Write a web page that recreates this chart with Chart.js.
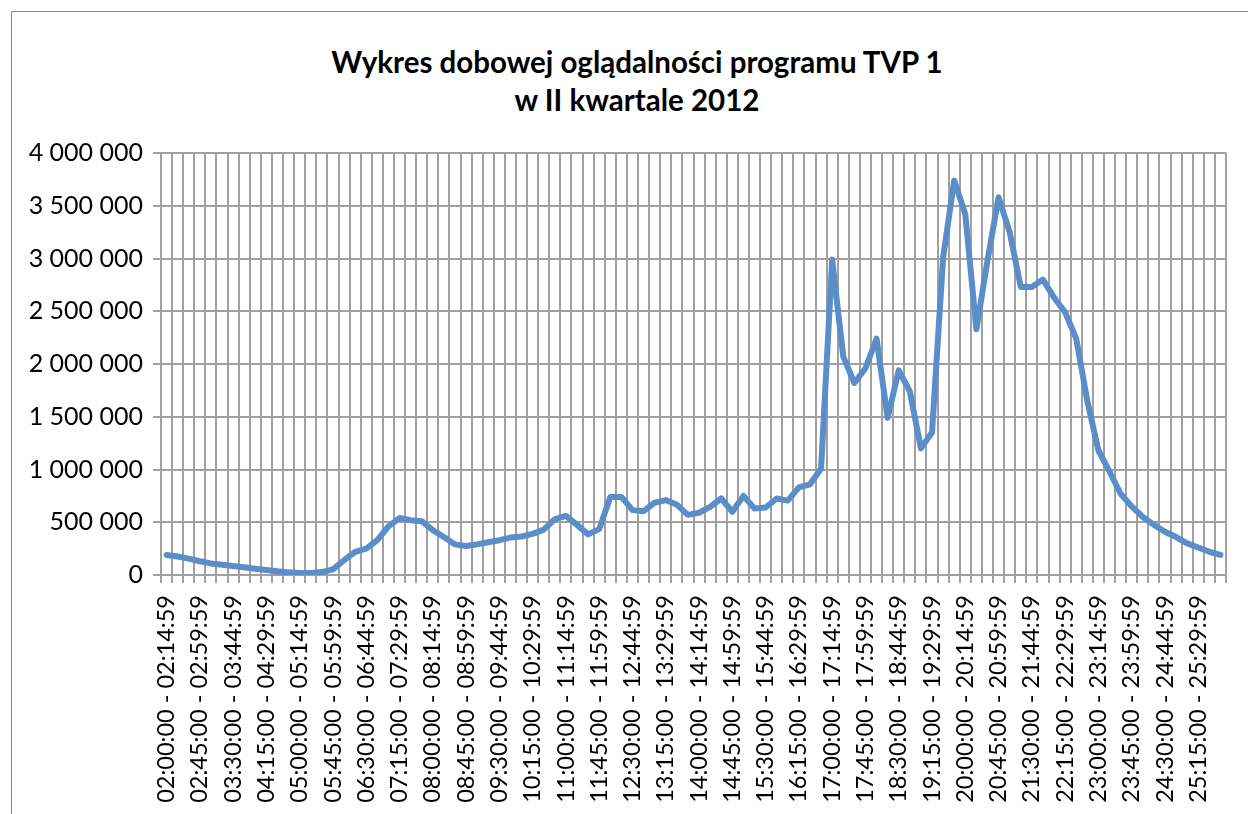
<!DOCTYPE html>
<html>
<head>
<meta charset="utf-8">
<script src="https://cdn.jsdelivr.net/npm/chart.js@4.4.1/dist/chart.umd.min.js"></script>
<style>
  html, body { margin: 0; padding: 0; background: #fff; overflow: hidden; }
  body { width: 1248px; height: 814px; position: relative; }
  .frame {
    position: absolute; left: 11px; top: 11px; width: 1250px; height: 810px;
    border-top: 1px solid #8c8c8c; border-left: 1px solid #8c8c8c;
  }
  .chart-box { position: absolute; left: 0; top: 0; width: 1250px; height: 802px; }
  .chart-title {
    position: absolute; left: 0; top: 31px; width: 1250px;
    text-align: center; font-family: Lato, "Open Sans", sans-serif;
    font-weight: bold; font-size: 29.5px; line-height: 38px; color: #000;
  }
</style>
</head>
<body>
<div class="frame">
  <div class="chart-title" id="chart-title"></div>
  <div class="chart-box"><canvas id="myChart"></canvas></div>
</div>
<script>
const titleLines = ['Wykres dobowej oglądalności programu TVP 1', 'w II kwartale 2012'];

// 15-minute slots from 02:00 to 25:59
const startHour = 2;
const slotCount = 96;
const showEvery = 3; // only every 3rd label is printed

// viewers per slot
const viewers = [
  190000, 175000, 155000, 130000, 110000, 98000, 85000, 73000, 60000, 48000,
  35000, 25000, 18000, 18000, 28000, 54000, 140000, 220000, 250000, 330000,
  460000, 540000, 520000, 510000, 425000, 360000, 290000, 275000, 290000, 310000,
  330000, 355000, 365000, 390000, 430000, 530000, 560000, 475000, 385000, 435000,
  740000, 740000, 615000, 605000, 685000, 710000, 665000, 570000, 590000, 645000,
  725000, 600000, 750000, 630000, 640000, 725000, 705000, 830000, 860000, 1010000,
  2990000, 2070000, 1820000, 1960000, 2240000, 1490000, 1940000, 1740000, 1200000, 1350000,
  3010000, 3740000, 3420000, 2330000, 2980000, 3580000, 3250000, 2730000, 2730000, 2800000,
  2630000, 2490000, 2240000, 1650000, 1180000, 980000, 770000, 650000, 550000, 475000,
  410000, 360000, 300000, 260000, 220000, 190000
];

const yMin = 0;
const yMax = 4000000;
const yStep = 500000;

function pad(n) {
  return n.toString().padStart(2, '0');
}

// build "HH:MM:00 - HH:MM:59" slot names
const slotLabels = [];
for (let i = 0; i < slotCount; i++) {
  const m = startHour * 60 + i * 15;
  const h = Math.floor(m / 60);
  const mm = m % 60;
  slotLabels.push(`${pad(h)}:${pad(mm)}:00 - ${pad(h)}:${pad(mm + 14)}:59`);
}

function formatThousands(v) {
  return v.toString().replace(/\B(?=(\d{3})+(?!\d))/g, ' ');
}

// title sits over the whole frame, like the spreadsheet chart
const titleEl = document.getElementById('chart-title');
titleLines.forEach((line) => {
  const div = document.createElement('div');
  div.textContent = line;
  titleEl.appendChild(div);
});

const gridColor = '#a0a0a0';
const fontFamily = 'Lato, "Open Sans", sans-serif';

const ctx = document.getElementById('myChart').getContext('2d');
new Chart(ctx, {
  type: 'line',
  data: {
    labels: slotLabels,
    datasets: [
      {
        data: viewers,
        borderColor: '#5a8ec8',
        borderWidth: 6,
        pointRadius: 0,
        tension: 0,
        borderJoinStyle: 'round',
        borderCapStyle: 'round',
      },
    ],
  },
  options: {
    responsive: true,
    maintainAspectRatio: false,
    animation: false,
    layout: {
      padding: { left: 10, right: 36, top: 141, bottom: 0 },
    },
    plugins: {
      legend: { display: false },
      tooltip: { enabled: false },
      title: { display: false },
    },
    scales: {
      x: {
        offset: true,
        grid: {
          offset: true,
          color: gridColor,
          lineWidth: 2,
          tickLength: 8,
        },
        border: { color: gridColor, width: 2 },
        ticks: {
          autoSkip: false,
          minRotation: 90,
          maxRotation: 90,
          padding: 12,
          color: '#000',
          font: { family: fontFamily, size: 23.5 },
          callback: function (value, index) {
            return index % showEvery === 0 ? slotLabels[index] : '';
          },
        },
        afterFit: function (scale) {
          scale.height = 239;
        },
      },
      y: {
        min: yMin,
        max: yMax,
        grid: {
          color: gridColor,
          lineWidth: 2,
          tickLength: 8,
        },
        border: { color: gridColor, width: 2 },
        ticks: {
          stepSize: yStep,
          padding: 10,
          color: '#000',
          font: { family: fontFamily, size: 25 },
          callback: (v) => formatThousands(v),
        },
        afterFit: function (scale) {
          scale.width = 139;
        },
      },
    },
  },
});
</script>
</body>
</html>
